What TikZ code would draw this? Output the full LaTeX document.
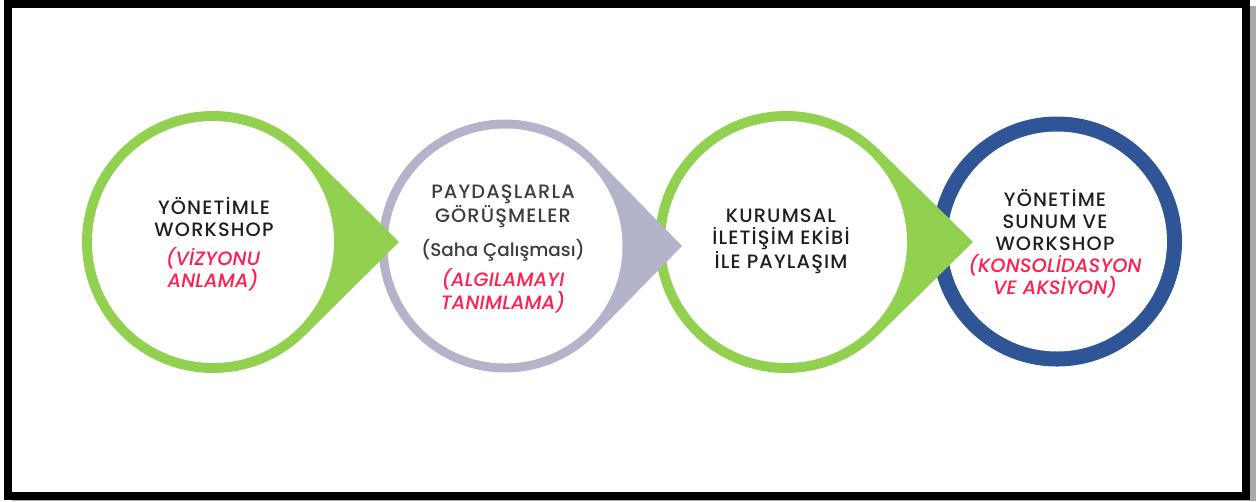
\documentclass[tikz,border=0pt]{standalone}
\usepackage{fontspec}
\setmainfont{Poppins}[UprightFont={Poppins Medium}, ItalicFont={Poppins Medium Italic}]
\usetikzlibrary{calc}
\definecolor{cgreen}{HTML}{92D050}
\definecolor{cgrey}{HTML}{B3B3C9}
\definecolor{cblue}{HTML}{2F5597}
\definecolor{cred}{HTML}{FF1F4F}
\definecolor{cdark}{HTML}{1E1E28}
\definecolor{cdarkgrey}{HTML}{3C3C46}
\definecolor{cshadow}{HTML}{A8A8A8}
\newcommand\tdrop[6]{% x y R r d color
  \pgfmathsetmacro\tdang{acos(#3/#5)}
  \fill[#6] (#1+#5,#2) -- ($(#1,#2)+(\tdang:#3)$) arc[start angle=\tdang, end angle=360-\tdang, radius=#3] -- cycle;
  \fill[white] (#1,#2) circle[radius=#4];
}
\tikzset{
  lbl/.style={inner sep=0pt, align=center, font=\fontsize{14.5}{16.5}\selectfont\addfontfeatures{LetterSpace=6}, text=cdark},
  lblred/.style={lbl, text=cred, font=\fontsize{14.5}{16.5}\selectfont\itshape\addfontfeatures{LetterSpace=1}},
}
\begin{document}
\begin{tikzpicture}[x=0.75pt,y=0.75pt]
\useasboundingbox (0,0) rectangle (1256,-501);
% frame with shadow
\fill[cshadow] (1250,-6) rectangle (1256,-501);
\fill[cshadow] (12,-500) rectangle (1256,-501);
\draw[line width=6pt] (8,-4) rectangle (1246,-496);
% circles, right to left so the tips overlap the next circle
\coordinate (c4) at (1057,-241.5);
\coordinate (c3) at (786,-242);
\coordinate (c2) at (505,-246);
\coordinate (c1) at (213,-242);
\fill[cblue] (c4) circle[radius=125];
\fill[white] (c4) circle[radius=110];
\tdrop{786}{-242}{131}{121}{187}{cgreen}
\tdrop{505}{-246}{126.5}{117.5}{177}{cgrey}
\tdrop{213}{-242}{131}{121}{186}{cgreen}
% texts
\node[lbl] (t1a) at (214,-217.5) {YÖNETİMLE\\WORKSHOP};
\node[lblred] (t1b) at (213,-269) {(VİZYONU\\ANLAMA)};
\node[lbl, text=cdarkgrey] (t2a) at (503,-206.5) {PAYDAŞLARLA\\GÖRÜŞMELER};
\node[lbl, text=cdarkgrey, font=\fontsize{13.8}{16.5}\selectfont] (t2s) at (503,-250) {(Saha Çalışması)};
\node[lblred, font=\fontsize{14.5}{13.5}\selectfont\itshape\addfontfeatures{LetterSpace=1}] (t2b) at (503,-291) {(ALGILAMAYI\\TANIMLAMA)};
\node[lbl] (t3) at (781,-241.5) {KURUMSAL\\İLETİŞİM EKİBİ\\İLE PAYLAŞIM};
\node[lbl] (t4a) at (1055,-220.5) {YÖNETİME\\SUNUM VE\\WORKSHOP};
\node[lblred] (t4b) at (1055,-276) {(KONSOLİDASYON\\VE AKSİYON)};
\end{tikzpicture}
\end{document}
